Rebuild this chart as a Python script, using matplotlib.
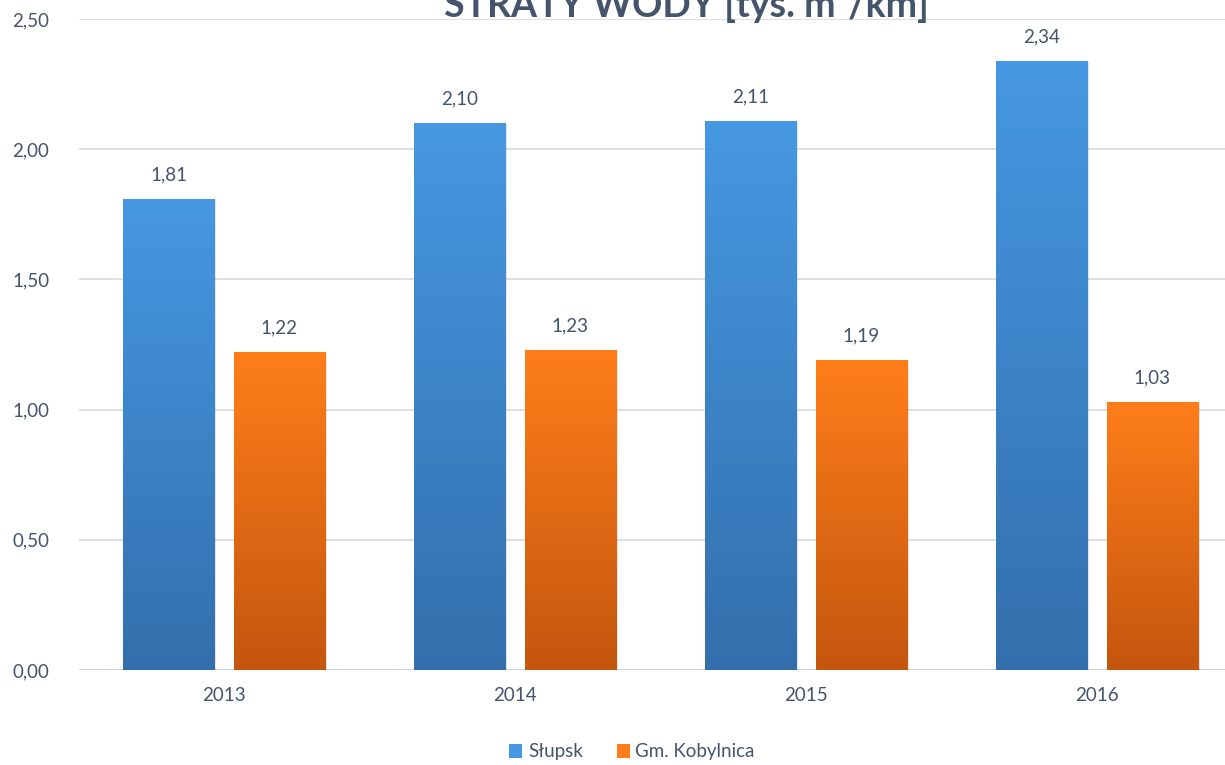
import numpy as np
import matplotlib.pyplot as plt
from matplotlib.colors import LinearSegmentedColormap
from matplotlib.patches import Patch

plt.rcParams['font.family'] = ['Lato', 'DejaVu Sans']

lata = ['2013', '2014', '2015', '2016']
slupsk = [1.81, 2.10, 2.11, 2.34]
kobylnica = [1.22, 1.23, 1.19, 1.03]
serie = ['Słupsk', 'Gm. Kobylnica']

tekst = '#44546a'
niebieski = ('#4698e2', '#336fac')
pomarancz = ('#ff7e1a', '#c4560e')

fig = plt.figure(figsize=(12.25, 7.65), dpi=100)
# osie wychodzą trochę poza prawą krawędź, jak na oryginale
ax = fig.add_axes([78.5/1225, 1 - 670/765, (1242.5-78.5)/1225, (670-19)/765])

x = np.arange(len(lata))
szer = 0.313
off = 0.19

def gradient_bars(xs, vals, kolory):
    cmap = LinearSegmentedColormap.from_list('g', [kolory[1], kolory[0]])
    bars = ax.bar(xs, vals, szer, color='none', zorder=3)
    grad = np.linspace(0, 1, 256).reshape(-1, 1)
    for b, v in zip(bars, vals):
        # cień
        ax.bar(b.get_x() + b.get_width()/2 + 0.004, v, szer + 0.006,
               bottom=-0.004, color='#000000', alpha=0.10, zorder=2)
        im = ax.imshow(grad, cmap=cmap, aspect='auto', origin='lower',
                       extent=[b.get_x(), b.get_x() + b.get_width(), 0, v],
                       zorder=3)
        im.set_clip_path(b)
    for xi, v in zip(xs, vals):
        ax.text(xi, v + 0.06, f'{v:.2f}'.replace('.', ','), ha='center',
                va='bottom', fontsize=13.5, color=tekst)
    return bars

gradient_bars(x - off, slupsk, niebieski)
gradient_bars(x + off, kobylnica, pomarancz)

ax.set_xlim(-0.5, 3.5)
ax.set_ylim(0, 2.5)
ax.set_yticks(np.arange(0, 2.51, 0.5))
ax.set_yticklabels([f'{t:.2f}'.replace('.', ',') for t in np.arange(0, 2.51, 0.5)])
ax.set_xticks(x)
ax.set_xticklabels(lata)
ax.tick_params(length=0, labelsize=13.5, colors=tekst, pad=12)
ax.tick_params(axis='y', pad=21)
ax.grid(axis='y', color='#d9d9d9', linewidth=1.2, zorder=0)
ax.set_axisbelow(True)
for s in ax.spines.values():
    s.set_visible(False)
ax.axhline(0, color='#d0d5dc', linewidth=1.5, zorder=1)

fig.text(686/1225, 1 - 17/765, 'STRATY WODY [tys. m³/km]', ha='center',
         va='baseline', fontsize=27, fontweight='bold', color=tekst)

uchwyty = [Patch(facecolor=niebieski[0]), Patch(facecolor=pomarancz[0])]
fig.legend(uchwyty, serie, loc='center', bbox_to_anchor=(632/1225, 1 - 752/765),
           ncol=2, frameon=False, fontsize=13.5, labelcolor=tekst,
           handlelength=0.7, handleheight=0.7, handletextpad=0.3,
           columnspacing=1.8)

plt.savefig('out.png', dpi=100)
